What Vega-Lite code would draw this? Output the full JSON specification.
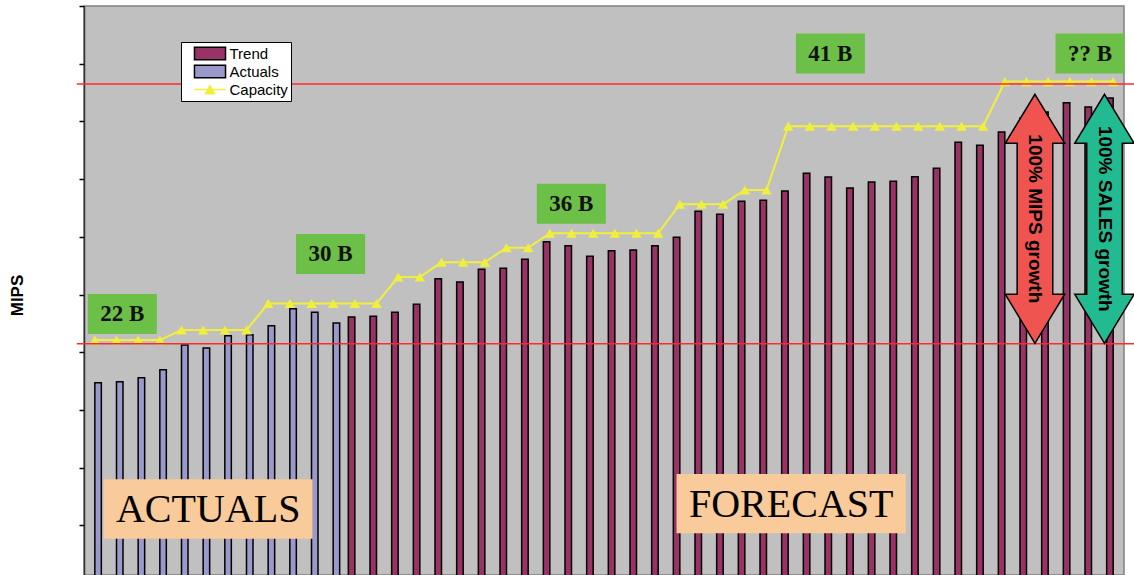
{
  "$schema": "https://vega.github.io/schema/vega-lite/v6.json",
  "width": 1040,
  "height": 569,
  "autosize": {"type": "none"},
  "padding": {"left": 84, "top": 6, "right": 10, "bottom": 0},
  "background": "white",
  "config": {
    "view": {"fill": "#c0c0c0", "stroke": "#808080", "strokeWidth": 1.5},
    "font": "Liberation Sans"
  },
  "datasets": {
    "bars": [
      {"period": 1, "series": "Actuals", "mips": 3471},
      {"period": 2, "series": "Actuals", "mips": 3489},
      {"period": 3, "series": "Actuals", "mips": 3558},
      {"period": 4, "series": "Actuals", "mips": 3697},
      {"period": 5, "series": "Actuals", "mips": 4125},
      {"period": 6, "series": "Actuals", "mips": 4073},
      {"period": 7, "series": "Actuals", "mips": 4286},
      {"period": 8, "series": "Actuals", "mips": 4303},
      {"period": 9, "series": "Actuals", "mips": 4459},
      {"period": 10, "series": "Actuals", "mips": 4754},
      {"period": 11, "series": "Actuals", "mips": 4691},
      {"period": 12, "series": "Actuals", "mips": 4508},
      {"period": 13, "series": "Trend", "mips": 4610},
      {"period": 14, "series": "Trend", "mips": 4622},
      {"period": 15, "series": "Trend", "mips": 4691},
      {"period": 16, "series": "Trend", "mips": 4830},
      {"period": 17, "series": "Trend", "mips": 5274},
      {"period": 18, "series": "Trend", "mips": 5216},
      {"period": 19, "series": "Trend", "mips": 5436},
      {"period": 20, "series": "Trend", "mips": 5454},
      {"period": 21, "series": "Trend", "mips": 5610},
      {"period": 22, "series": "Trend", "mips": 5915},
      {"period": 23, "series": "Trend", "mips": 5845},
      {"period": 24, "series": "Trend", "mips": 5662},
      {"period": 25, "series": "Trend", "mips": 5759},
      {"period": 26, "series": "Trend", "mips": 5771},
      {"period": 27, "series": "Trend", "mips": 5845},
      {"period": 28, "series": "Trend", "mips": 5991},
      {"period": 29, "series": "Trend", "mips": 6442},
      {"period": 30, "series": "Trend", "mips": 6390},
      {"period": 31, "series": "Trend", "mips": 6615},
      {"period": 32, "series": "Trend", "mips": 6632},
      {"period": 33, "series": "Trend", "mips": 6793},
      {"period": 34, "series": "Trend", "mips": 7100},
      {"period": 35, "series": "Trend", "mips": 7036},
      {"period": 36, "series": "Trend", "mips": 6845},
      {"period": 37, "series": "Trend", "mips": 6949},
      {"period": 38, "series": "Trend", "mips": 6961},
      {"period": 39, "series": "Trend", "mips": 7041},
      {"period": 40, "series": "Trend", "mips": 7187},
      {"period": 41, "series": "Trend", "mips": 7637},
      {"period": 42, "series": "Trend", "mips": 7585},
      {"period": 43, "series": "Trend", "mips": 7816},
      {"period": 44, "series": "Trend", "mips": 8058},
      {"period": 45, "series": "Trend", "mips": 8162},
      {"period": 46, "series": "Trend", "mips": 8324},
      {"period": 47, "series": "Trend", "mips": 8249},
      {"period": 48, "series": "Trend", "mips": 8405}
    ],
    "capacity": [
      {"period": 1, "capacity": 4211}, {"period": 2, "capacity": 4211}, {"period": 3, "capacity": 4211}, {"period": 4, "capacity": 4211},
      {"period": 5, "capacity": 4385}, {"period": 6, "capacity": 4385}, {"period": 7, "capacity": 4385}, {"period": 8, "capacity": 4385},
      {"period": 9, "capacity": 4844}, {"period": 10, "capacity": 4844}, {"period": 11, "capacity": 4844}, {"period": 12, "capacity": 4844},
      {"period": 13, "capacity": 4844}, {"period": 14, "capacity": 4844},
      {"period": 15, "capacity": 5303}, {"period": 16, "capacity": 5303},
      {"period": 17, "capacity": 5558}, {"period": 18, "capacity": 5558}, {"period": 19, "capacity": 5558},
      {"period": 20, "capacity": 5811}, {"period": 21, "capacity": 5811},
      {"period": 22, "capacity": 6061}, {"period": 23, "capacity": 6061}, {"period": 24, "capacity": 6061},
      {"period": 25, "capacity": 6061}, {"period": 26, "capacity": 6061}, {"period": 27, "capacity": 6061},
      {"period": 28, "capacity": 6565}, {"period": 29, "capacity": 6565}, {"period": 30, "capacity": 6565},
      {"period": 31, "capacity": 6811}, {"period": 32, "capacity": 6811},
      {"period": 33, "capacity": 7915}, {"period": 34, "capacity": 7915}, {"period": 35, "capacity": 7915},
      {"period": 36, "capacity": 7915}, {"period": 37, "capacity": 7915}, {"period": 38, "capacity": 7915},
      {"period": 39, "capacity": 7915}, {"period": 40, "capacity": 7915}, {"period": 41, "capacity": 7915},
      {"period": 42, "capacity": 7915},
      {"period": 43, "capacity": 8690}, {"period": 44, "capacity": 8690}, {"period": 45, "capacity": 8690},
      {"period": 46, "capacity": 8690}, {"period": 47, "capacity": 8690}, {"period": 48, "capacity": 8690}
    ],
    "levels": [{"level": 4148}, {"level": 8648}],
    "revenue": [
      {"label": "22 B", "u": 1.77, "v": 4664},
      {"label": "30 B", "u": 11.38, "v": 5702},
      {"label": "36 B", "u": 22.49, "v": 6572},
      {"label": "41 B", "u": 34.45, "v": 9175},
      {"label": "?? B", "u": 46.43, "v": 9175}
    ],
    "phases": [
      {"label": "ACTUALS", "u": 5.73, "v": 1283},
      {"label": "FORECAST", "u": 32.64, "v": 1375}
    ],
    "growth": [
      {"name": "MIPS", "text": "100% MIPS growth", "u": 43.89, "v": 6312},
      {"name": "SALES", "text": "100% SALES growth", "u": 47.1, "v": 6312}
    ]
  },
  "resolve": {"scale": {"x": "independent"}},
  "layer": [
    {
      "data": {"name": "bars"},
      "mark": {"type": "bar"},
      "encoding": {
        "x": {"field": "period", "type": "ordinal", "scale": {"paddingInner": 0.4, "paddingOuter": 0.2}, "axis": null},
        "xOffset": {"field": "series", "type": "nominal", "scale": {"domain": ["Trend", "Actuals"], "paddingInner": 0, "paddingOuter": 0}},
        "y": {
          "field": "mips", "type": "quantitative",
          "scale": {"domain": [139, 10000], "nice": false, "zero": false},
          "axis": {
            "values": [1000, 2000, 3000, 4000, 5000, 6000, 7000, 8000, 9000, 10000],
            "labels": false, "grid": false, "tickSize": 5, "tickColor": "black", "tickWidth": 1.5,
            "domainColor": "#333333", "domainWidth": 1.5,
            "title": "MIPS", "titleFont": "Liberation Sans", "titleFontSize": 17, "titleFontWeight": "bold",
            "titleColor": "black", "titleX": -67, "titleY": 289, "titleAngle": -90,
            "titleAlign": "center", "titleBaseline": "middle"
          }
        },
        "color": {
          "field": "series", "type": "nominal",
          "scale": {"domain": ["Trend", "Actuals", "Capacity"], "range": ["#993366", "#9999cc", "#f0f03c"]},
          "legend": {
            "orient": "none", "legendX": 97, "legendY": 36, "title": null,
            "fillColor": "white", "strokeColor": "black", "padding": 3,
            "labelFont": "Liberation Sans", "labelFontSize": 15, "labelColor": "black",
            "symbolSize": 225, "symbolStrokeWidth": 1.5, "symbolOffset": 17.5, "labelOffset": 11,
            "rowPadding": -7, "direction": "vertical",
            "symbolType": {"expr": "datum.value === 'Capacity' ? 'M-2.1,0H2.1M-0.6,0.55L0,-0.5L0.6,0.55Z' : 'M-2.07,-0.83H2.07V0.83H-2.07Z'"},
            "symbolStrokeColor": {"expr": "datum.value === 'Capacity' ? '#f0f03c' : '#000000'"}
          }
        }
      }
    },
    {
      "data": {"name": "bars"},
      "mark": {"type": "bar", "fillOpacity": 0, "stroke": "black", "strokeWidth": 1.5},
      "encoding": {
        "x": {"field": "period", "type": "ordinal", "scale": {"paddingInner": 0.4, "paddingOuter": 0.2}, "axis": null},
        "xOffset": {"field": "series", "type": "nominal", "scale": {"domain": ["Trend", "Actuals"], "paddingInner": 0, "paddingOuter": 0}},
        "y": {"field": "mips", "type": "quantitative"}
      }
    },
    {
      "data": {"name": "capacity"},
      "mark": {"type": "line", "color": "#f0f03c", "strokeWidth": 2,
               "point": {"shape": "triangle-up", "size": 110, "filled": true, "color": "#f0f03c", "opacity": 1}},
      "encoding": {
        "x": {"field": "period", "type": "ordinal", "axis": null},
        "y": {"field": "capacity", "type": "quantitative"}
      }
    },
    {
      "data": {"name": "levels"},
      "mark": {"type": "rule", "color": "#ff2a2a", "strokeWidth": 1.5},
      "encoding": {
        "y": {"field": "level", "type": "quantitative"},
        "x": {"datum": -0.33, "type": "quantitative", "scale": {"domain": [0, 48], "nice": false, "zero": false}, "axis": null},
        "x2": {"datum": 48.46}
      }
    },
    {
      "data": {"name": "revenue"},
      "mark": {"type": "point", "shape": "M-1,-0.58H1V0.58H-1Z", "size": 4761, "filled": true, "color": "#6cbf47", "opacity": 1, "strokeWidth": 0},
      "encoding": {
        "x": {"field": "u", "type": "quantitative", "scale": {"domain": [0, 48], "nice": false, "zero": false}, "axis": null},
        "y": {"field": "v", "type": "quantitative"}
      }
    },
    {
      "data": {"name": "revenue"},
      "mark": {"type": "text", "font": "Liberation Serif", "fontWeight": "bold", "fontSize": 23, "color": "#111111", "baseline": "middle", "align": "center"},
      "encoding": {
        "x": {"field": "u", "type": "quantitative", "scale": {"domain": [0, 48], "nice": false, "zero": false}, "axis": null},
        "y": {"field": "v", "type": "quantitative"},
        "text": {"field": "label"}
      }
    },
    {
      "data": {"name": "phases"},
      "transform": [{"filter": "datum.label === 'ACTUALS'"}],
      "mark": {"type": "point", "shape": "M-1,-0.284H1V0.284H-1Z", "size": 43681, "filled": true, "color": "#f9ca9a", "opacity": 1, "strokeWidth": 0},
      "encoding": {
        "x": {"field": "u", "type": "quantitative", "scale": {"domain": [0, 48], "nice": false, "zero": false}, "axis": null},
        "y": {"field": "v", "type": "quantitative"}
      }
    },
    {
      "data": {"name": "phases"},
      "transform": [{"filter": "datum.label === 'FORECAST'"}],
      "mark": {"type": "point", "shape": "M-1,-0.2586H1V0.2586H-1Z", "size": 52578, "filled": true, "color": "#f9ca9a", "opacity": 1, "strokeWidth": 0},
      "encoding": {
        "x": {"field": "u", "type": "quantitative", "scale": {"domain": [0, 48], "nice": false, "zero": false}, "axis": null},
        "y": {"field": "v", "type": "quantitative"}
      }
    },
    {
      "data": {"name": "phases"},
      "mark": {"type": "text", "font": "Liberation Serif", "fontSize": 40, "color": "black", "baseline": "middle", "align": "center", "dy": 1},
      "encoding": {
        "x": {"field": "u", "type": "quantitative", "scale": {"domain": [0, 48], "nice": false, "zero": false}, "axis": null},
        "y": {"field": "v", "type": "quantitative"},
        "text": {"field": "label"}
      }
    },
    {
      "data": {"name": "growth"},
      "mark": {"type": "point", "shape": "M0,-1L0.239,-0.606L0.143,-0.606L0.143,0.606L0.239,0.606L0,1L-0.239,0.606L-0.143,0.606L-0.143,-0.606L-0.239,-0.606Z",
               "size": 62001, "filled": true, "opacity": 1, "stroke": "black", "strokeWidth": 1.5},
      "encoding": {
        "x": {"field": "u", "type": "quantitative", "scale": {"domain": [0, 48], "nice": false, "zero": false}, "axis": null},
        "y": {"field": "v", "type": "quantitative"},
        "fill": {"field": "name", "type": "nominal", "scale": {"domain": ["MIPS", "SALES"], "range": ["#f05450", "#22bb91"]}, "legend": null}
      }
    },
    {
      "data": {"name": "growth"},
      "mark": {"type": "text", "font": "Liberation Sans", "fontWeight": "bold", "fontSize": 19, "color": "black", "angle": 90, "baseline": "middle", "align": "center"},
      "encoding": {
        "x": {"field": "u", "type": "quantitative", "scale": {"domain": [0, 48], "nice": false, "zero": false}, "axis": null},
        "y": {"field": "v", "type": "quantitative"},
        "text": {"field": "text"}
      }
    }
  ]
}
